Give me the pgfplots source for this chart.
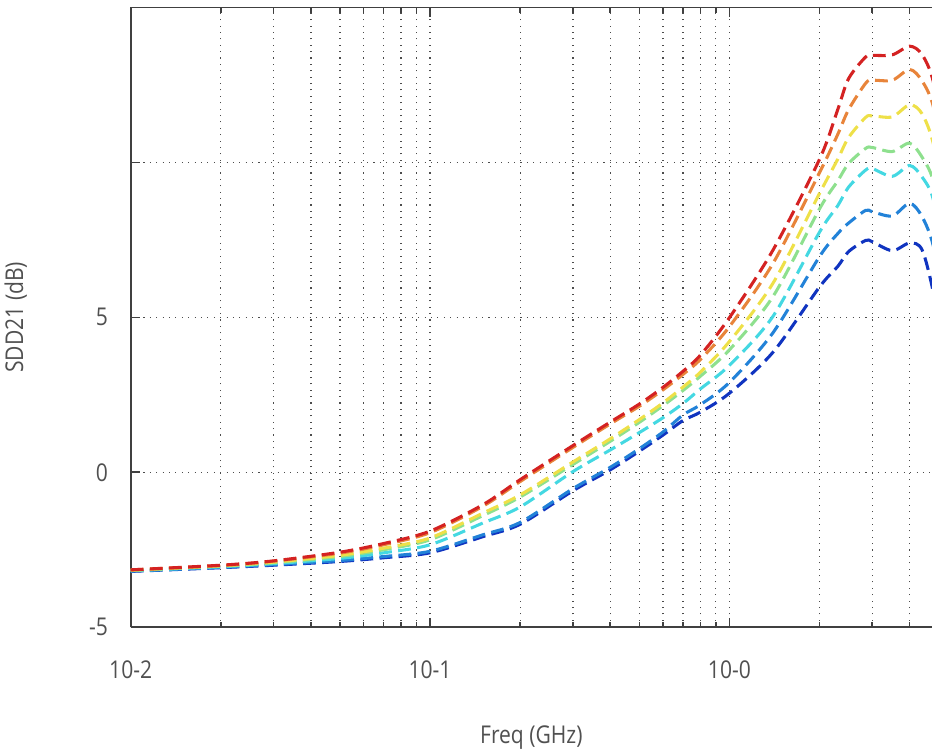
\documentclass[border=0pt]{standalone}
\usepackage{pgfplots}
\pgfplotsset{compat=1.18}
\usepackage{pgfplotstable}
\usepackage{fontspec}
\setmainfont{Open Sans}[FakeStretch=0.86]

\definecolor{cR}{HTML}{D42222}
\definecolor{cO}{HTML}{E8843A}
\definecolor{cY}{HTML}{EEE048}
\definecolor{cG}{HTML}{8EE08E}
\definecolor{cC}{HTML}{44D8E2}
\definecolor{cB}{HTML}{2282D8}
\definecolor{cD}{HTML}{1034C0}
\definecolor{txt}{HTML}{505050}

% SDD21 (dB) vs frequency (GHz), seven curves red -> dark blue
\pgfplotstableread{
f     R      O      Y      G      C      B      D
0.01  -3.15  -3.15  -3.16  -3.17  -3.18  -3.19  -3.20
0.02  -3.00  -3.01  -3.02  -3.03  -3.05  -3.07  -3.08
0.03  -2.86  -2.87  -2.90  -2.92  -2.95  -2.98  -3.00
0.05  -2.58  -2.61  -2.68  -2.72  -2.78  -2.85  -2.88
0.07  -2.30  -2.34  -2.45  -2.50  -2.60  -2.72  -2.76
0.1   -1.90  -1.95  -2.12  -2.18  -2.34  -2.55  -2.60
0.15  -1.05  -1.10  -1.32  -1.40  -1.64  -2.02  -2.08
0.2   -0.24  -0.30  -0.73  -0.80  -1.12  -1.62  -1.68
0.3    0.86   0.80   0.33   0.25   0.02  -0.53  -0.60
0.4    1.62   1.56   1.08   1.00   0.72   0.16   0.08
0.5    2.20   2.13   1.70   1.61   1.28   0.76   0.68
0.6    2.74   2.66   2.24   2.15   1.76   1.30   1.20
0.7    3.26   3.16   2.75   2.64   2.22   1.85   1.67
0.8    3.78   3.64   3.23   3.10   2.69   2.18   1.94
1.0    4.99   4.70   4.22   3.95   3.45   2.90   2.55
1.4    7.18   6.75   6.11   5.68   5.04   4.51   3.88
2.0   10.10   9.67   9.00   8.50   7.75   6.96   5.98
2.3   11.70  10.90  10.10   9.40   8.60   7.70   6.64
2.5   12.70  11.70  10.80   9.96   9.20   8.04   7.12
2.85  13.40  12.55  11.45  10.45   9.75   8.45   7.48
3.0   13.45  12.65  11.50  10.48   9.80   8.41   7.44
3.5   13.47  12.65  11.47  10.35   9.55   8.27   7.15
4.0   13.75  13.00  11.86  10.62   9.90   8.68   7.40
4.4   13.48  12.63  11.57  10.17   9.53   8.25   7.18
4.8   12.60  11.80  10.60   9.40   8.80   7.30   5.80
5.2   10.50   9.80   8.60   7.60   6.80   5.30   3.80
}\sdd

\begin{document}
\begin{tikzpicture}
\begin{axis}[
    at={(0,0)}, anchor=south west,
    scale only axis,
    width=301pt, height=232.8pt,
    xmode=log,
    xmin=0.01, xmax=4.75,
    ymin=-5, ymax=15,
    xtick={0.01,0.1,1},
    xticklabels={\mbox{10-2},\mbox{10-1},\mbox{10-0}},
    minor xtick={0.02,0.03,0.04,0.05,0.06,0.07,0.08,0.09,
                 0.2,0.3,0.4,0.5,0.6,0.7,0.8,0.9,2,3,4},
    ytick={-5,0,5,10},
    yticklabels={\mbox{-5},\mbox{0},\mbox{5},{}},
    grid=both,
    major grid style={dotted, line width=0.5pt, black!70},
    minor grid style={dotted, line width=0.5pt, black!70},
    axis x line=box, axis y line=left,
    axis line style={-, black!75, line width=0.7pt},
    tick align=inside,
    major tick length=3.5pt, minor tick length=2pt,
    tick style={black!75, line width=0.6pt},
    font=\fontsize{9.2}{11}\selectfont,
    ticklabel style={text=txt},
    xticklabel style={yshift=-9pt},
    yticklabel style={xshift=-5pt},
    xlabel={Freq (GHz)}, ylabel={SDD21 (dB)},
    label style={text=txt},
    xlabel style={at={(axis description cs:0.5,-0.178)}, anchor=center},
    ylabel style={at={(axis description cs:-0.1435,0.5)}, anchor=center},
    every axis plot/.append style={smooth, line width=1.15pt,
        dash pattern=on 4.8pt off 2.4pt},
]
\addplot[cD] table[x=f, y=D] {\sdd};
\addplot[cB] table[x=f, y=B] {\sdd};
\addplot[cC] table[x=f, y=C] {\sdd};
\addplot[cG] table[x=f, y=G] {\sdd};
\addplot[cY] table[x=f, y=Y] {\sdd};
\addplot[cO] table[x=f, y=O] {\sdd};
\addplot[cR] table[x=f, y=R] {\sdd};
\end{axis}
\pgfresetboundingbox
\path (-49.1pt,-47.1pt) rectangle (301pt,235.6pt);
\end{tikzpicture}
\end{document}
